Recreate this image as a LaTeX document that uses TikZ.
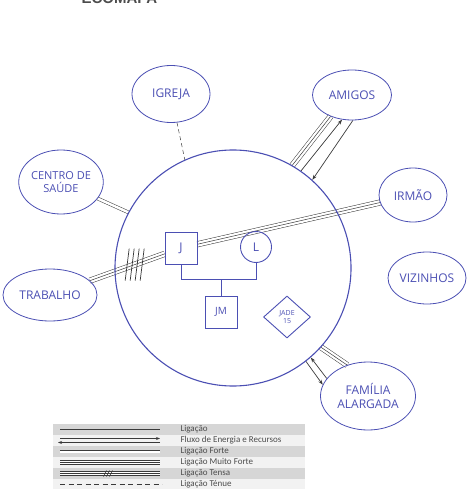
\documentclass[tikz,border=0pt]{standalone}
\usepackage{fontspec}
\setmainfont{Open Sans}
\newfontfamily\legfont{Carlito}
\newfontfamily\titlefont{Liberation Sans}
\usepackage{xcolor}
\usepackage{tikz}
\usetikzlibrary{arrows.meta,shapes.geometric,backgrounds,calc}
\definecolor{ink}{HTML}{4B4FB3}
\definecolor{pencil}{HTML}{3A3A3A}
\definecolor{rowgray}{HTML}{D6D6D6}
\definecolor{rowlight}{HTML}{F2F2F2}

\begin{document}
\begin{tikzpicture}[x=1pt, y=-1pt,
  place/.style={draw=ink, ellipse, line width=0.8pt, inner sep=0pt, text=ink, align=center, font=\fontsize{12}{14}\selectfont},
  member/.style={draw=ink, line width=0.9pt, text=ink, minimum size=32pt, inner sep=0pt, font=\fontsize{12}{12}\selectfont},
  link/.style={draw=pencil, line width=0.5pt},
  forte/.style={link, double distance=2.5pt},
  muitoforte/.style={link, preaction={draw=pencil, line width=0.5pt, double distance=5pt}},
  fluxo/.style={link, line width=0.7pt, -{Stealth[length=5pt,width=3.5pt]}},
  legtext/.style={anchor=west, text=black!70, font=\legfont\fontsize{9}{9}\selectfont}]
  \useasboundingbox (0,0) rectangle (467,489);

  \node[anchor=base west, text=black!70, font=\titlefont\bfseries\fontsize{15}{15}\selectfont] (titulo) at (78,4) {ECOMAPA};

  \node[circle, draw=ink, line width=1.1pt, minimum size=236pt] (fam) at (233,268) {};

  \node[place, minimum width=78pt, minimum height=57pt] (igreja) at (171,94) {IGREJA};
  \node[place, minimum width=79pt, minimum height=50pt] (amigos) at (352,95) {AMIGOS};
  \node[place, minimum width=80pt, minimum height=64pt, font=\fontsize{11}{13}\selectfont] (centro) at (61,182) {CENTRO DE\\SAÚDE};
  \node[place, minimum width=94pt, minimum height=52pt] (trabalho) at (50,295) {TRABALHO};
  \node[place, minimum width=68pt, minimum height=54pt] (irmao) at (413,195) {IRMÃO};
  \node[place, minimum width=78pt, minimum height=52pt] (vizinhos) at (427,278) {VIZINHOS};
  \node[place, minimum width=95pt, minimum height=68pt] (alargada) at (368,396) {FAMÍLIA\\ALARGADA};

  \node[member] (J) at (181,248) {J};
  \node[member, circle, minimum size=31pt] (L) at (256,247) {L};
  \node[member, font=\fontsize{10}{10}\selectfont] (JM) at (221,312) {JM};
  \node[member, diamond, minimum width=47pt, minimum height=42pt, align=center, font=\fontsize{7}{7.5}\selectfont] (jade) at (287,317) {JADE\\15};

  \draw[draw=ink, line width=0.9pt] (J.south) -- ++(0,15) coordinate (uniao) -| (L.south);
  \draw[draw=ink, line width=0.9pt] (JM.north) -- (JM.north |- uniao);

  \begin{scope}[on background layer]
    \draw[link, dashed, dash pattern=on 4pt off 3pt] (igreja) -- (fam.114);
    \draw[forte] (centro) -- (fam.152);
    \draw[muitoforte] (trabalho) -- coordinate[pos=0.6] (tensao) (J);
    \foreach \dx in {-7.5,-2.5,2.5,7.5}
      \draw[link, line width=0.7pt] ([shift={(\dx+2,-16)}]tensao) -- ([shift={(\dx-2,16)}]tensao);
    \draw[muitoforte] (J) -- (irmao);
    \draw[muitoforte] (amigos.225) -- (fam.60);
    \draw[fluxo] (fam.55) -- (amigos.248);
    \draw[fluxo] (amigos.272) -- (fam.48);
    \draw[muitoforte] (alargada.124) -- (fam.318);
    \draw[fluxo] (alargada.157) -- (fam.311);
    \draw[fluxo] (fam.308) -- (alargada.166);
  \end{scope}

  \foreach \i/\c in {0/rowgray,1/rowlight,2/rowgray,3/rowlight,4/rowgray,5/rowlight}
    \fill[\c] (53,{424+\i*11}) rectangle (305,{435+\i*11});

  \draw[link, line width=0.9pt] (60,429.5) -- (160,429.5);
  \draw[link, line width=0.7pt, -{Stealth[length=4pt,width=3pt]}] (60,438.5) -- (160,438.5);
  \draw[link, line width=0.7pt, -{Stealth[length=4pt,width=3pt]}] (160,442.5) -- (58,442.5);
  \draw[link, line width=0.7pt, double distance=2pt] (60,451.5) -- (160,451.5);
  \draw[link, line width=0.7pt, preaction={draw=pencil, line width=0.7pt, double distance=3pt}] (60,462.5) -- (160,462.5);
  \draw[link, line width=0.7pt, preaction={draw=pencil, line width=0.7pt, double distance=3pt}] (60,473.5) -- (160,473.5);
  \foreach \dx in {-3,0,3}
    \draw[link, line width=0.6pt] (108+\dx+1.5,470.5) -- (108+\dx-1.5,476.5);
  \draw[link, line width=0.9pt, dash pattern=on 5pt off 3.5pt] (60,484.5) -- (162,484.5);

  \node[legtext] (leg1) at (177,429.5) {Ligação};
  \node[legtext] (leg2) at (177,440.5) {Fluxo de Energia e Recursos};
  \node[legtext] (leg3) at (177,451.5) {Ligação Forte};
  \node[legtext] (leg4) at (177,462.5) {Ligação Muito Forte};
  \node[legtext] (leg5) at (177,473.5) {Ligação Tensa};
  \node[legtext] (leg6) at (177,484.5) {Ligação Ténue};
\end{tikzpicture}
\end{document}
